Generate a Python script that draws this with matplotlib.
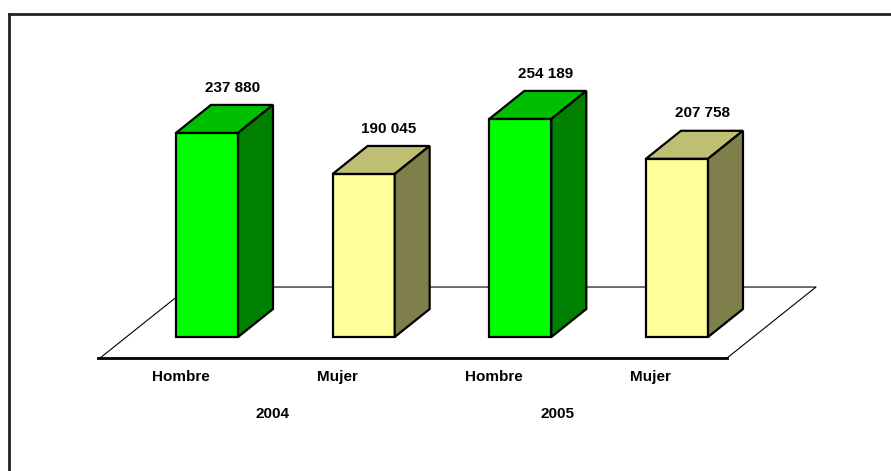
import matplotlib
matplotlib.use('Agg')
import matplotlib.pyplot as plt
from matplotlib.patches import Polygon

# data
years = ['2004', '2005']
sexes = ['Hombre', 'Mujer', 'Hombre', 'Mujer']
values = [237880, 190045, 254189, 207758]
labels = ['237 880', '190 045', '254 189', '207 758']

front_cols = ['#00FF00', '#FFFF99', '#00FF00', '#FFFF99']
top_cols = ['#00BF00', '#BFBF73', '#00BF00', '#BFBF73']
side_cols = ['#008000', '#7F7F4C', '#008000', '#7F7F4C']

FONT = ['Liberation Sans Narrow', 'Liberation Sans', 'DejaVu Sans']

W = 0.396           # bar width (category units)
DX, DY = 0.223, 32600   # bar depth offset
FDX, FDY = 0.568, 82750  # floor depth offset
FY0 = -24500        # floor front edge
FX0, FX1 = -0.683, 3.319

fig = plt.figure(figsize=(8.91, 4.71), dpi=100)
ax = fig.add_axes([0.03894, 0.01125, 0.94949, 0.91083])
ax.set_xlim(-1.1, 4.3)
ax.set_ylim(-150000, 350000)
ax.axis('off')

# floor
ax.plot([FX0, FX0 + FDX, FX1 + FDX, FX1], [FY0, FY0 + FDY, FY0 + FDY, FY0],
        color='black', lw=0.8, zorder=1)
ax.plot([FX0 - 0.01, FX1], [FY0, FY0], color='black', lw=2, zorder=1)

x = list(range(len(values)))
ax.bar(x, values, W, color=front_cols, edgecolor='black', lw=1.6, zorder=3)
for i, v in enumerate(values):
    l, r = i - W / 2, i + W / 2
    top = Polygon([(l, v), (l + DX, v + DY), (r + DX, v + DY), (r, v)],
                  closed=True, fc=top_cols[i], ec='black', lw=1.6, zorder=3)
    side = Polygon([(r, 0), (r, v), (r + DX, v + DY), (r + DX, DY)],
                   closed=True, fc=side_cols[i], ec='black', lw=1.6, zorder=3)
    ax.add_patch(top)
    ax.add_patch(side)
    ax.text(i + 0.16, v + DY + 12000, labels[i], ha='center', va='bottom',
            fontsize=11, fontweight='bold', family=FONT, zorder=4)
    ax.text(i - 0.17, -47000, sexes[i], ha='center', va='center',
            fontsize=11, fontweight='bold', family=FONT)

for j, yr in enumerate(years):
    ax.text(0.42 + j * 1.815, -90000, yr, ha='center', va='center',
            fontsize=11, fontweight='bold', family=FONT)

# outer frame (top and left edges visible)
fig.add_artist(plt.Line2D([9 / 891, 1.0], [1 - 14 / 471, 1 - 14 / 471],
                          transform=fig.transFigure, color='#222222', lw=2))
fig.add_artist(plt.Line2D([9 / 891, 9 / 891], [0, 1 - 14 / 471],
                          transform=fig.transFigure, color='#222222', lw=2))

fig.savefig('out.png', dpi=100)
